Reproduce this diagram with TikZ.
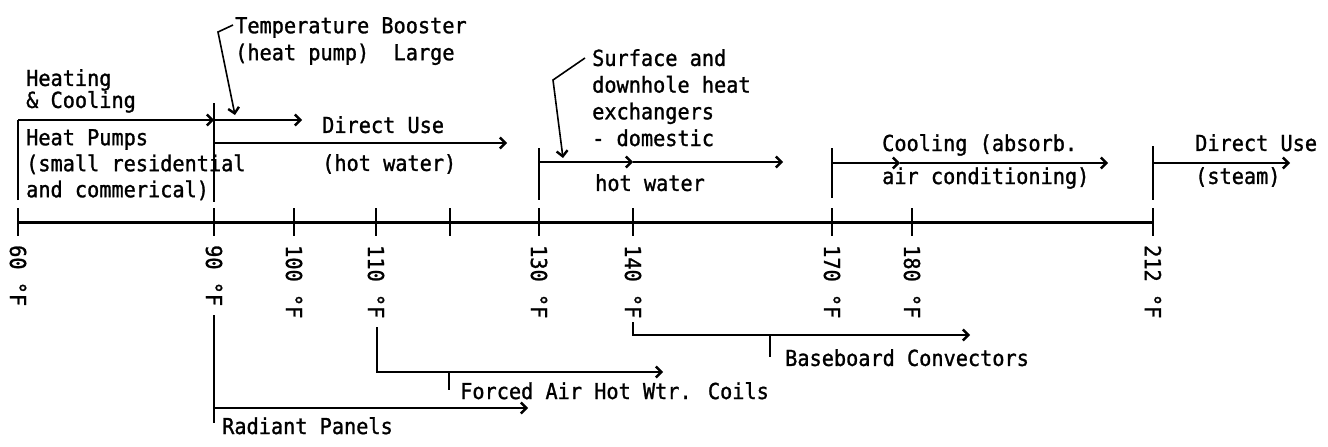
\documentclass[tikz,border=0pt]{standalone}
\usepackage{fontspec}
\newfontfamily\twfont[FakeStretch=0.92,FakeBold=1.2]{DejaVu Sans Mono}
\usetikzlibrary{arrows.meta}
\begin{document}
\begin{tikzpicture}[x=1pt,y=-1pt,
  ln/.style={line width=2.4pt},
  thinln/.style={line width=1.6pt},
  axisline/.style={line width=3pt},
  tip/.style={-{Straight Barb[length=5.5pt,width=11pt,line width=2.4pt]}},
  arr/.style={line width=2.4pt,tip},
  leader/.style={line width=1.6pt,tip},
  txt/.style={font=\twfont\fontsize{22}{26}\selectfont, inner sep=0pt, align=left, anchor=north west},
  lab/.style={font=\twfont\fontsize{22}{26}\selectfont, inner sep=0pt, rotate=-90, anchor=west}]
\useasboundingbox (0,0) rectangle (1328,447);
% ---- axis ticks
\coordinate (t60)  at (18,222);
\coordinate (t90)  at (214,222);
\coordinate (t100) at (294,222);
\coordinate (t110) at (376,222);
\coordinate (t120) at (450,222);
\coordinate (t130) at (539,222);
\coordinate (t140) at (633,222);
\coordinate (t170) at (832,222);
\coordinate (t180) at (912,222);
\coordinate (t212) at (1153,222);
\draw[axisline] (t60) -- (t212);
\foreach \t in {t60,t90,t100,t110,t120,t130,t140,t170,t180,t212}
  \draw[ln] ([yshift=14pt]\t) -- ([yshift=-14pt]\t);
\node[lab] (l60)  at ([yshift=-23pt]t60)  {60 °F};
\node[lab] (l90)  at ([yshift=-23pt]t90)  {90 °F};
\node[lab] (l100) at ([yshift=-23pt]t100) {100 °F};
\node[lab] (l110) at ([yshift=-23pt]t110) {110 °F};
\node[lab] (l130) at ([yshift=-23pt]t130) {130 °F};
\node[lab] (l140) at ([yshift=-23pt]t140) {140 °F};
\node[lab] (l170) at ([yshift=-23pt]t170) {170 °F};
\node[lab] (l180) at ([yshift=-23pt]t180) {180 °F};
\node[lab] (l212) at ([yshift=-23pt]t212) {212 °F};
% ---- upper connectors
\coordinate (hp0) at (18,200);
\coordinate (hp1) at (18,120);
\coordinate (hp2) at (214,120);
\coordinate (v90a) at (214,103);
\coordinate (v90b) at (214,202);
\coordinate (tb) at (302,120);
\coordinate (dw0) at (214,143);
\coordinate (dw1) at (507,143);
\coordinate (ld1a) at (233,25);
\coordinate (ld1b) at (218,32);
\coordinate (ld1c) at (235,115);
\coordinate (hwT) at (539,148);
\coordinate (hwB) at (539,200);
\coordinate (hwA) at (539,162);
\coordinate (hwM) at (633,162);
\coordinate (hwE) at (783,162);
\coordinate (ld2a) at (585,58);
\coordinate (ld2b) at (553,80);
\coordinate (ld2c) at (563,158);
\coordinate (clT) at (832,148);
\coordinate (clB) at (832,198);
\coordinate (clA) at (832,163);
\coordinate (clM) at (900,163);
\coordinate (clE) at (1108,163);
\coordinate (stT) at (1153,146);
\coordinate (stB) at (1153,200);
\coordinate (stA) at (1153,163);
\coordinate (stE) at (1290,163);
\draw[ln] (hp0) -- (hp1);
\draw[arr] (hp1) -- (hp2);
\draw[ln] (v90a) -- (v90b);
\draw[arr] (hp2) -- (tb);
\draw[arr] (dw0) -- (dw1);
\draw[leader] (ld1a) -- (ld1b) -- (ld1c);
\draw[ln] (hwT) -- (hwB);
\draw[arr] (hwA) -- (hwM);
\draw[arr] (hwM) -- (hwE);
\draw[leader] (ld2a) -- (ld2b) -- (ld2c);
\draw[ln] (clT) -- (clB);
\draw[arr] (clA) -- (clM);
\draw[arr] (clM) -- (clE);
\draw[ln] (stT) -- (stB);
\draw[arr] (stA) -- (stE);
% ---- lower connectors
\coordinate (rp0) at (214,315);
\coordinate (rp1) at (214,423);
\coordinate (rpA) at (214,408);
\coordinate (rpE) at (528,408);
\coordinate (fa0) at (377,327);
\coordinate (fa1) at (377,372);
\coordinate (faE) at (663,372);
\coordinate (faT0) at (449,372);
\coordinate (faT1) at (449,390);
\coordinate (bb0) at (633,322);
\coordinate (bb1) at (633,335);
\coordinate (bbE) at (970,335);
\coordinate (bbT0) at (770,335);
\coordinate (bbT1) at (770,357);
\draw[ln] (rp0) -- (rp1);
\draw[arr] (rpA) -- (rpE);
\draw[arr] (fa0) -- (fa1) -- (faE);
\draw[thinln] (faT0) -- (faT1);
\draw[arr] (bb0) -- (bb1) -- (bbE);
\draw[thinln] (bbT0) -- (bbT1);
% ---- texts
\node[txt, font=\twfont\fontsize{22}{22}\selectfont] (heat) at (26,69) {Heating\\\& Cooling};
\node[txt] (hpump) at (26,129) {Heat Pumps\\(small residential\\and commerical)};
\node[txt, font=\twfont\fontsize{22}{27}\selectfont] (tbst) at (235,17) {Temperature Booster\\(heat pump)\ \ Large};
\node[txt] (du1) at (322,116) {Direct Use\\[12pt](hot water)};
\node[txt, font=\twfont\fontsize{22}{26.7}\selectfont] (surf) at (592,49) {Surface and\\downhole heat\\exchangers\\- domestic};
\node[txt] (hotw) at (595,174) {hot water};
\node[txt] (cool) at (882,134) {Cooling (absorb.\\[7pt]air conditioning)};
\node[txt] (du2) at (1195,134) {Direct Use\\[7pt](steam)};
\node[txt] (rad) at (222,417) {Radiant Panels};
\node[txt] (fa) at (460,382) {Forced Air Hot Wtr. Coils};
\node[txt] (bb) at (785,349) {Baseboard Convectors};
\end{tikzpicture}
\end{document}
